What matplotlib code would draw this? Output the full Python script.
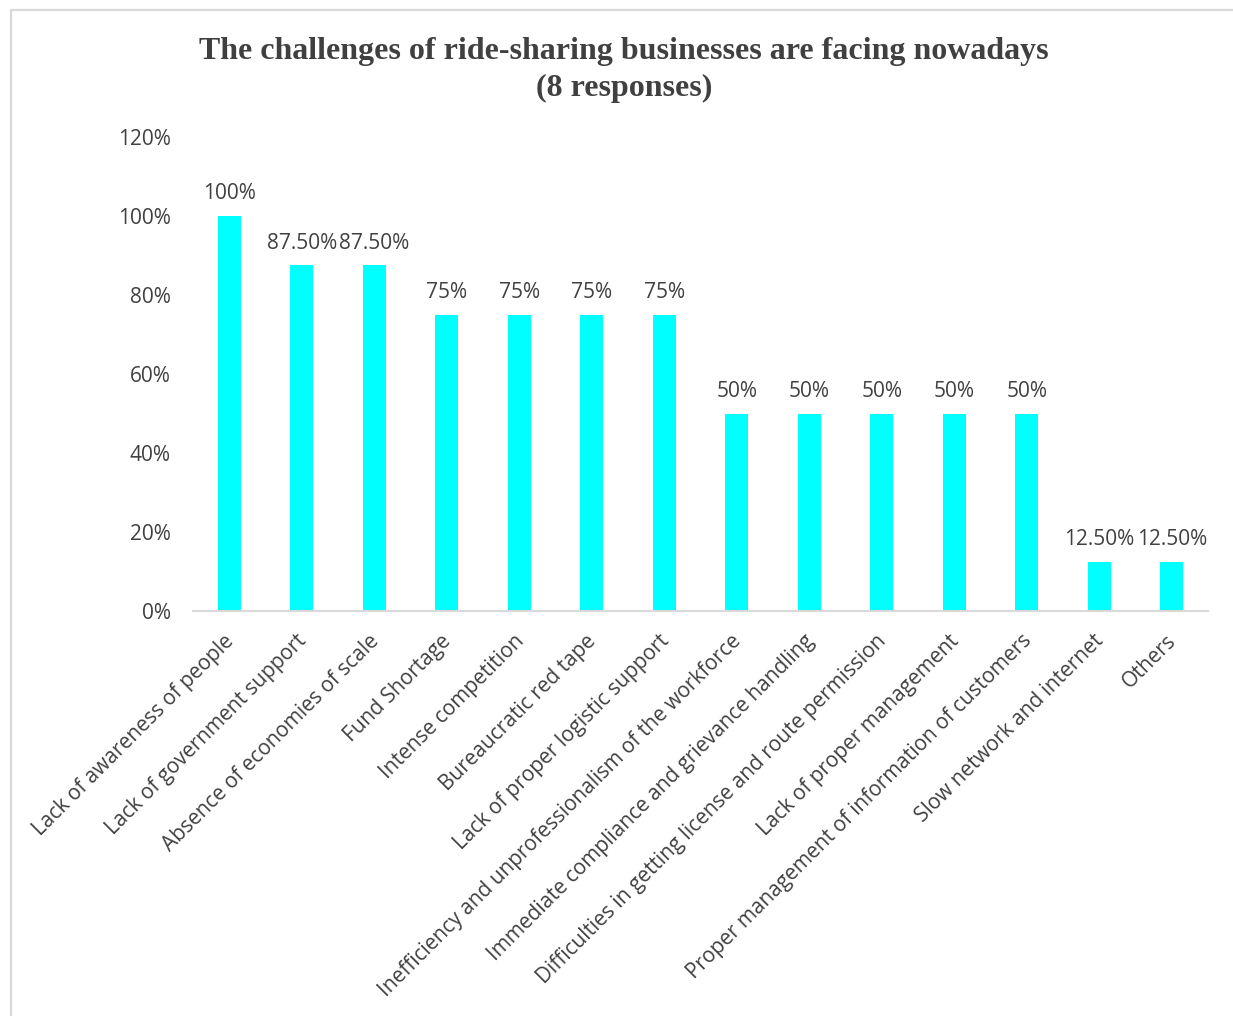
import matplotlib
matplotlib.use("Agg")
import matplotlib.pyplot as plt
import matplotlib.transforms as mtransforms
from matplotlib.patches import Rectangle
from matplotlib.ticker import FuncFormatter

categories = [
    "Lack of awareness of people",
    "Lack of government support",
    "Absence of economies of scale",
    "Fund Shortage",
    "Intense competition",
    "Bureaucratic red tape",
    "Lack of proper logistic support",
    "Inefficiency and unprofessionalism of the workforce",
    "Immediate compliance and grievance handling",
    "Difficulties in getting license and route permission",
    "Lack of proper management",
    "Proper management of information of customers",
    "Slow network and internet",
    "Others",
]
values = [100, 87.5, 87.5, 75, 75, 75, 75, 50, 50, 50, 50, 50, 12.5, 12.5]
value_labels = ["100%", "87.50%", "87.50%", "75%", "75%", "75%", "75%",
                "50%", "50%", "50%", "50%", "50%", "12.50%", "12.50%"]
y_ticks = [0, 20, 40, 60, 80, 100, 120]

W, H = 1233, 1016
fig = plt.figure(figsize=(W / 100, H / 100), dpi=100)
fig.patch.set_facecolor("white")

# outer chart frame
fig.add_artist(Rectangle((11 / W, -0.05), 1.2, 1 - 10 / H + 0.05,
                         transform=fig.transFigure, fill=False,
                         edgecolor="#D9D9D9", linewidth=1.6))

left, right, bottom, top = 193, 1208, 611, 137
ax = fig.add_axes([left / W, 1 - bottom / H, (right - left) / W, (bottom - top) / H])

text_color = "#404040"
sans = ["Open Sans", "DejaVu Sans"]
fs = 15

x = range(len(categories))
ax.bar(x, values, width=0.32, color="#00FFFF")
ax.set_xlim(-0.5, len(categories) - 0.5)
ax.set_ylim(0, 120)
ax.set_yticks(y_ticks)
ax.yaxis.set_major_formatter(FuncFormatter(lambda v, p: f"{v:.0f}%"))

for sp in ["top", "right", "left"]:
    ax.spines[sp].set_visible(False)
ax.spines["bottom"].set_color("#D9D9D9")
ax.spines["bottom"].set_linewidth(1.5)
ax.tick_params(axis="both", length=0, colors=text_color)
ax.tick_params(axis="y", pad=16)

for lab in ax.get_yticklabels():
    lab.set_fontfamily(sans)
    lab.set_fontsize(fs)

ax.set_xticks(list(x))
ax.set_xticklabels(categories, rotation=45, ha="right", rotation_mode="anchor",
                   fontsize=fs, family=sans, color=text_color)
ax.tick_params(axis="x", pad=14)
shift = mtransforms.ScaledTranslation(-6 / 100, 0, fig.dpi_scale_trans)
for lab in ax.get_xticklabels():
    lab.set_transform(lab.get_transform() + shift)

for xi, v, s in zip(x, values, value_labels):
    ax.text(xi, v + 3.0, s, ha="center", va="bottom", fontsize=fs,
            family=sans, color=text_color)

fig.text(624 / W, 1 - 70 / H,
         "The challenges of ride-sharing businesses are facing nowadays\n(8 responses)",
         ha="center", va="center", fontsize=23, fontweight="bold",
         family=["Liberation Serif", "DejaVu Serif"], color=text_color,
         linespacing=1.32)

fig.savefig("out.png", dpi=100, facecolor="white")
